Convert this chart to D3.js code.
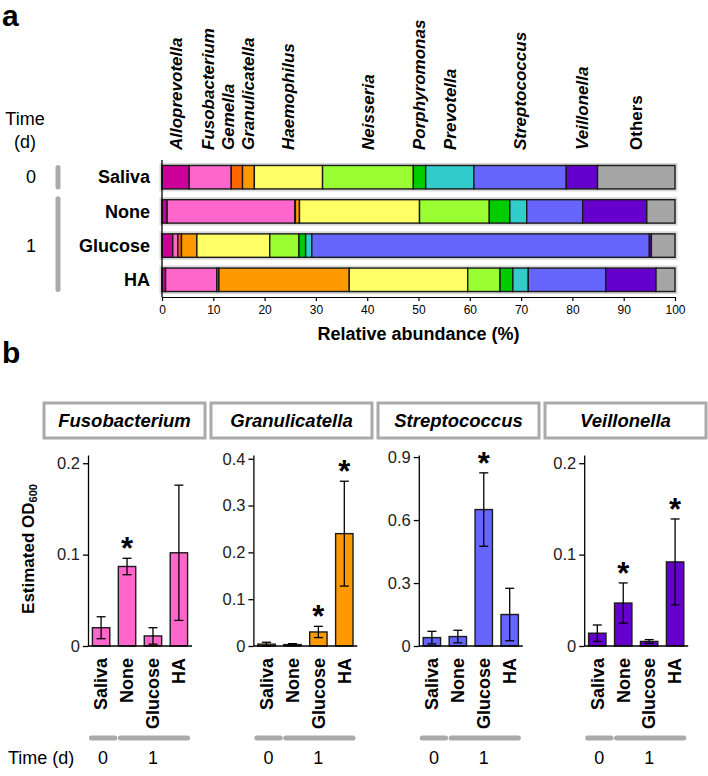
<!DOCTYPE html>
<html>
<head>
<meta charset="utf-8">
<script src="https://cdn.jsdelivr.net/npm/d3@7"></script>
<style>
  body { margin: 0; background: #fff; }
  svg { font-family: "Liberation Sans", Arial, sans-serif; }
  .tick line, .domain { stroke: #000; }
</style>
</head>
<body>
<svg id="chart" width="708" height="776"></svg>
<script>
// ---- panel a data (relative abundance, %) ----
const genera = ["Alloprevotella","Fusobacterium","Gemella","Granulicatella","Haemophilus",
                "Neisseria","Porphyromonas","Prevotella","Streptococcus","Veillonella","Others"];
const generaColors = ["#cc0099","#ff66cc","#ff6600","#ff9900","#ffff66",
                      "#99ff33","#00cc00","#33cccc","#6666ff","#6600cc","#a6a6a6"];
const samples = ["Saliva","None","Glucose","HA"];
const salivaPct  = [5.3, 8.2, 2.2, 2.3, 13.3, 17.7, 2.4, 9.4, 18.0, 6.1, 15.1];
const nonePct    = [1.0, 24.9, 0.1, 0.8, 23.4, 13.6, 4.0, 3.3, 10.9, 12.5, 5.5];
const glucosePct = [2.1, 1.0, 0.7, 3.0, 14.2, 5.7, 1.3, 1.2, 65.8, 0.4, 4.6];
const haPct      = [0.7, 10.0, 0.4, 25.4, 23.1, 6.3, 2.5, 3.0, 15.1, 9.8, 3.7];
const abundanceTicks = [0,10,20,30,40,50,60,70,80,90,100];

// ---- panel b data (estimated OD600) ----
const odGenera = ["Fusobacterium","Granulicatella","Streptococcus","Veillonella"];
const odColors = ["#ff66cc","#ff9900","#6666ff","#6600cc"];
const fusoOD   = [0.020, 0.087, 0.011, 0.102];
const fusoErr  = [0.012, 0.009, 0.009, 0.074];
const fusoStar = [false, true, false, false];
const granOD   = [0.004, 0.003, 0.030, 0.240];
const granErr  = [0.004, 0.002, 0.012, 0.112];
const granStar = [false, false, true, true];
const strepOD  = [0.040, 0.045, 0.650, 0.150];
const strepErr = [0.030, 0.030, 0.175, 0.125];
const strepStar= [false, false, true, false];
const veilOD   = [0.014, 0.047, 0.005, 0.092];
const veilErr  = [0.009, 0.022, 0.002, 0.047];
const veilStar = [false, true, false, true];
const odMax    = [0.209, 0.408, 0.91, 0.209];
const odTicks  = [[0,0.1,0.2],[0,0.1,0.2,0.3,0.4],[0,0.3,0.6,0.9],[0,0.1,0.2]];

const svg = d3.select("#chart");

svg.append("text").text("a").attr("x",2).attr("y",26)
   .attr("font-size",30).attr("font-weight","bold");
svg.append("text").text("b").attr("x",2).attr("y",363)
   .attr("font-size",30).attr("font-weight","bold");

//---------------- panel a ----------------
const rows = [salivaPct, nonePct, glucosePct, haPct];
const xA = d3.scaleLinear().domain([0,100]).range([162,675]);
const yA = d3.scaleBand().domain(samples).range([160,297]).paddingInner(0.315).paddingOuter(0.16);

const panelA = svg.append("g");

rows.forEach((vals,i)=>{
    const s = samples[i];
    // soft grey shadow round each bar
    panelA.append("rect")
        .attr("x",xA(0)).attr("y",yA(s))
        .attr("width",xA(100)-xA(0)).attr("height",yA.bandwidth())
        .attr("fill","none").attr("stroke","#d8d8d8").attr("stroke-width",5);
    let cum = 0;
    vals.forEach((v,j)=>{
        panelA.append("rect")
            .attr("x",xA(cum)).attr("y",yA(s))
            .attr("width",xA(cum+v)-xA(cum)).attr("height",yA.bandwidth())
            .attr("fill",generaColors[j])
            .attr("stroke","#1a1a1a").attr("stroke-width",1.4);
        cum += v;
    });
    panelA.append("text").text(s)
        .attr("x",150).attr("y",yA(s)+yA.bandwidth()/2)
        .attr("dy","0.35em").attr("text-anchor","end")
        .attr("font-size",18).attr("font-weight","bold");
});

// axes
panelA.append("line").attr("x1",xA(0)).attr("x2",xA(0)).attr("y1",160).attr("y2",297)
    .attr("stroke","#000").attr("stroke-width",1.3);
panelA.append("g").attr("transform","translate(0,297)")
    .call(d3.axisBottom(xA).tickValues(abundanceTicks).tickSize(4).tickSizeOuter(0))
    .call(g=>g.selectAll("text").attr("font-size",12).attr("font-family","Liberation Sans, Arial").attr("dy","0.85em"))
    .call(g=>g.selectAll("line,path").attr("stroke-width",1.2));
panelA.append("text").text("Relative abundance (%)")
    .attr("x",(xA(0)+xA(100))/2).attr("y",340).attr("text-anchor","middle")
    .attr("font-size",18).attr("font-weight","bold");

// genus labels centred over saliva segments, spread where they crowd
let mids = [], c = 0;
salivaPct.forEach(v=>{ mids.push(xA(c+v/2)); c += v; });
for(let i=mids.length-2; i>=0; i--){
    if(mids[i] > mids[i+1]-20) mids[i] = mids[i+1]-20;
}
genera.forEach((g,i)=>{
    panelA.append("text").text(g)
        .attr("transform",`translate(${mids[i]},150) rotate(-90)`)
        .attr("dy","0.35em")
        .attr("font-size",17).attr("font-weight","bold")
        .attr("font-style", g=="Others" ? "normal" : "italic");
});

// time column
panelA.append("text").text("Time").attr("x",25).attr("y",125)
    .attr("text-anchor","middle").attr("font-size",18);
panelA.append("text").text("(d)").attr("x",25).attr("y",148)
    .attr("text-anchor","middle").attr("font-size",18);
panelA.append("text").text("0").attr("x",31).attr("y",yA("Saliva")+yA.bandwidth()/2)
    .attr("dy","0.35em").attr("text-anchor","middle").attr("font-size",18);
panelA.append("text").text("1").attr("x",31).attr("y",(yA("None")+yA("HA")+yA.bandwidth())/2)
    .attr("dy","0.35em").attr("text-anchor","middle").attr("font-size",18);
panelA.append("line").attr("x1",58).attr("x2",58)
    .attr("y1",yA("Saliva")+2).attr("y2",yA("Saliva")+yA.bandwidth()-2)
    .attr("stroke","#aaa").attr("stroke-width",5).attr("stroke-linecap","round");
panelA.append("line").attr("x1",58).attr("x2",58)
    .attr("y1",yA("None")-1).attr("y2",yA("HA")+yA.bandwidth()-2)
    .attr("stroke","#aaa").attr("stroke-width",5).attr("stroke-linecap","round");

//---------------- panel b ----------------
const odValues = [fusoOD, granOD, strepOD, veilOD];
const odErrors = [fusoErr, granErr, strepErr, veilErr];
const odStars  = [fusoStar, granStar, strepStar, veilStar];

svg.append("text")
    .attr("transform","translate(34,549) rotate(-90)")
    .attr("text-anchor","middle").attr("font-size",17).attr("font-weight","bold")
    .call(t=>{
        t.append("tspan").text("Estimated OD");
        t.append("tspan").text("600").attr("font-size",11).attr("dy",3);
    });

svg.append("text").text("Time (d)").attr("x",8).attr("y",764).attr("font-size",18);

odGenera.forEach((name,p)=>{
    const x0 = 88 + p*165.4;
    const boxX = 44 + p*167;
    const g = svg.append("g");

    g.append("rect").attr("x",boxX).attr("y",403).attr("width",161).attr("height",35)
        .attr("fill","#fff").attr("stroke","#aaa").attr("stroke-width",3);
    g.append("text").text(name).attr("x",boxX+80.5).attr("y",421).attr("dy","0.35em")
        .attr("text-anchor","middle").attr("font-size",18.5)
        .attr("font-weight","bold").attr("font-style","italic");

    const x = d3.scaleBand().domain(samples).range([x0,x0+104]).paddingInner(0.33).paddingOuter(0.17);
    const y = d3.scaleLinear().domain([0,odMax[p]]).range([646,455]);

    const vals = odValues[p], errs = odErrors[p], stars = odStars[p];

    g.selectAll(".bar").data(samples).join("rect")
        .attr("x",d=>x(d)).attr("width",x.bandwidth())
        .attr("y",(d,i)=>y(vals[i])).attr("height",(d,i)=>y(0)-y(vals[i]))
        .attr("fill",odColors[p]).attr("stroke","#1a1a1a").attr("stroke-width",1.4);

    samples.forEach((s,i)=>{
        const cx = x(s)+x.bandwidth()/2;
        const lo = Math.max(0, vals[i]-errs[i]), hi = vals[i]+errs[i];
        g.append("line").attr("x1",cx).attr("x2",cx).attr("y1",y(lo)).attr("y2",y(hi))
            .attr("stroke","#000").attr("stroke-width",1.3);
        [lo,hi].forEach(v=>{
            g.append("line").attr("x1",cx-4.5).attr("x2",cx+4.5).attr("y1",y(v)).attr("y2",y(v))
                .attr("stroke","#000").attr("stroke-width",1.3);
        });
        if(stars[i]){
            g.append("text").text("*").attr("x",cx).attr("y",y(hi)+1)
                .attr("text-anchor","middle").attr("font-size",31).attr("font-weight","bold");
        }
        g.append("text").text(s)
            .attr("transform",`translate(${cx},658) rotate(-90)`)
            .attr("dy","0.35em").attr("text-anchor","end")
            .attr("font-size",18).attr("font-weight","bold");
    });

    g.append("g").attr("transform",`translate(${x0},0)`)
        .call(d3.axisLeft(y).tickValues(odTicks[p]).tickSize(5).tickSizeOuter(0)
              .tickFormat(d=> d===0 ? "0" : d3.format(".1f")(d)))
        .call(a=>a.selectAll("text").attr("font-size",16.5).attr("font-family","Liberation Sans, Arial").attr("fill","#222"))
        .call(a=>a.selectAll("line,path").attr("stroke-width",1.3));
    g.append("line").attr("x1",x0).attr("x2",x0+104).attr("y1",y(0)).attr("y2",y(0))
        .attr("stroke","#000").attr("stroke-width",1.3);

    // time group bars
    const sx = x("Saliva"), nx = x("None"), hx = x("HA")+x.bandwidth();
    g.append("line").attr("x1",sx-1).attr("x2",sx+x.bandwidth()+5).attr("y1",738).attr("y2",738)
        .attr("stroke","#aaa").attr("stroke-width",5).attr("stroke-linecap","round");
    g.append("line").attr("x1",nx+2).attr("x2",hx).attr("y1",738).attr("y2",738)
        .attr("stroke","#aaa").attr("stroke-width",5).attr("stroke-linecap","round");
    g.append("text").text("0").attr("x",sx+x.bandwidth()/2+2).attr("y",764)
        .attr("text-anchor","middle").attr("font-size",18);
    g.append("text").text("1").attr("x",(nx+hx)/2).attr("y",764)
        .attr("text-anchor","middle").attr("font-size",18);
});
</script>
</body>
</html>
